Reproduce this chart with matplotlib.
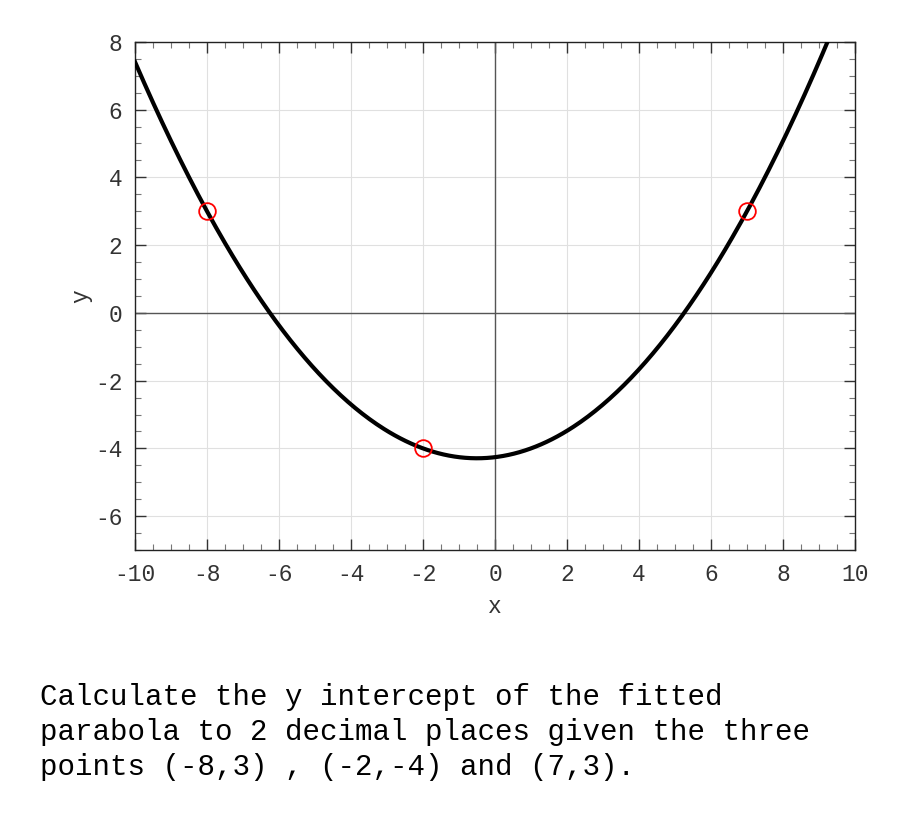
import numpy as np
import matplotlib.pyplot as plt
from matplotlib.ticker import MultipleLocator

# points the parabola goes through
px = [-8, -2, 7]
py = [3, -4, 3]

xticks = [-10, -8, -6, -4, -2, 0, 2, 4, 6, 8, 10]
yticks = [-6, -4, -2, 0, 2, 4, 6, 8]

question = ("Calculate the y intercept of the fitted\n"
            "parabola to 2 decimal places given the three\n"
            "points (-8,3) , (-2,-4) and (7,3).")

plt.rcParams['font.family'] = ['Liberation Mono', 'DejaVu Sans Mono']
plt.rcParams['axes.unicode_minus'] = False

fig = plt.figure(figsize=(9, 8.25), dpi=100)
ax = fig.add_axes([0.15, 0.3333, 0.80, 0.616])

# fitted parabola through the three points
coef = np.polyfit(px, py, 2)
xs = np.linspace(-10, 10, 400)
ax.plot(xs, np.polyval(coef, xs), color='black', lw=3.0, zorder=3)
ax.plot(px, py, 'o', mfc='none', mec='red', ms=12, mew=1.3, zorder=4)

ax.axhline(0, color='#555555', lw=1.0, zorder=2)
ax.axvline(0, color='#555555', lw=1.0, zorder=2)

ax.set_xlim(-10, 10)
ax.set_ylim(-7, 8)
ax.set_xticks(xticks)
ax.set_yticks(yticks)
ax.xaxis.set_minor_locator(MultipleLocator(0.5))
ax.yaxis.set_minor_locator(MultipleLocator(0.5))
ax.grid(True, which='major', color='#e0e0e0', lw=0.8, zorder=0)
ax.tick_params(which='both', direction='in', top=True, right=True,
               labelsize=16.5, colors='#333333', labelcolor='#333333')
ax.tick_params(which='major', length=8, width=1, pad=9)
ax.tick_params(which='minor', length=4, width=0.8, colors='#777777')
for s in ax.spines.values():
    s.set_color('#222222')
    s.set_linewidth(1)

ax.set_xlabel('x', fontsize=16.5, color='#333333', labelpad=7)
ax.set_ylabel('y', fontsize=16.5, color='#333333', labelpad=2)

fig.text(40 / 900, 1 - 683 / 825, question, fontsize=21, va='top',
         ha='left', linespacing=1.32)

fig.savefig('out.png', dpi=100)
